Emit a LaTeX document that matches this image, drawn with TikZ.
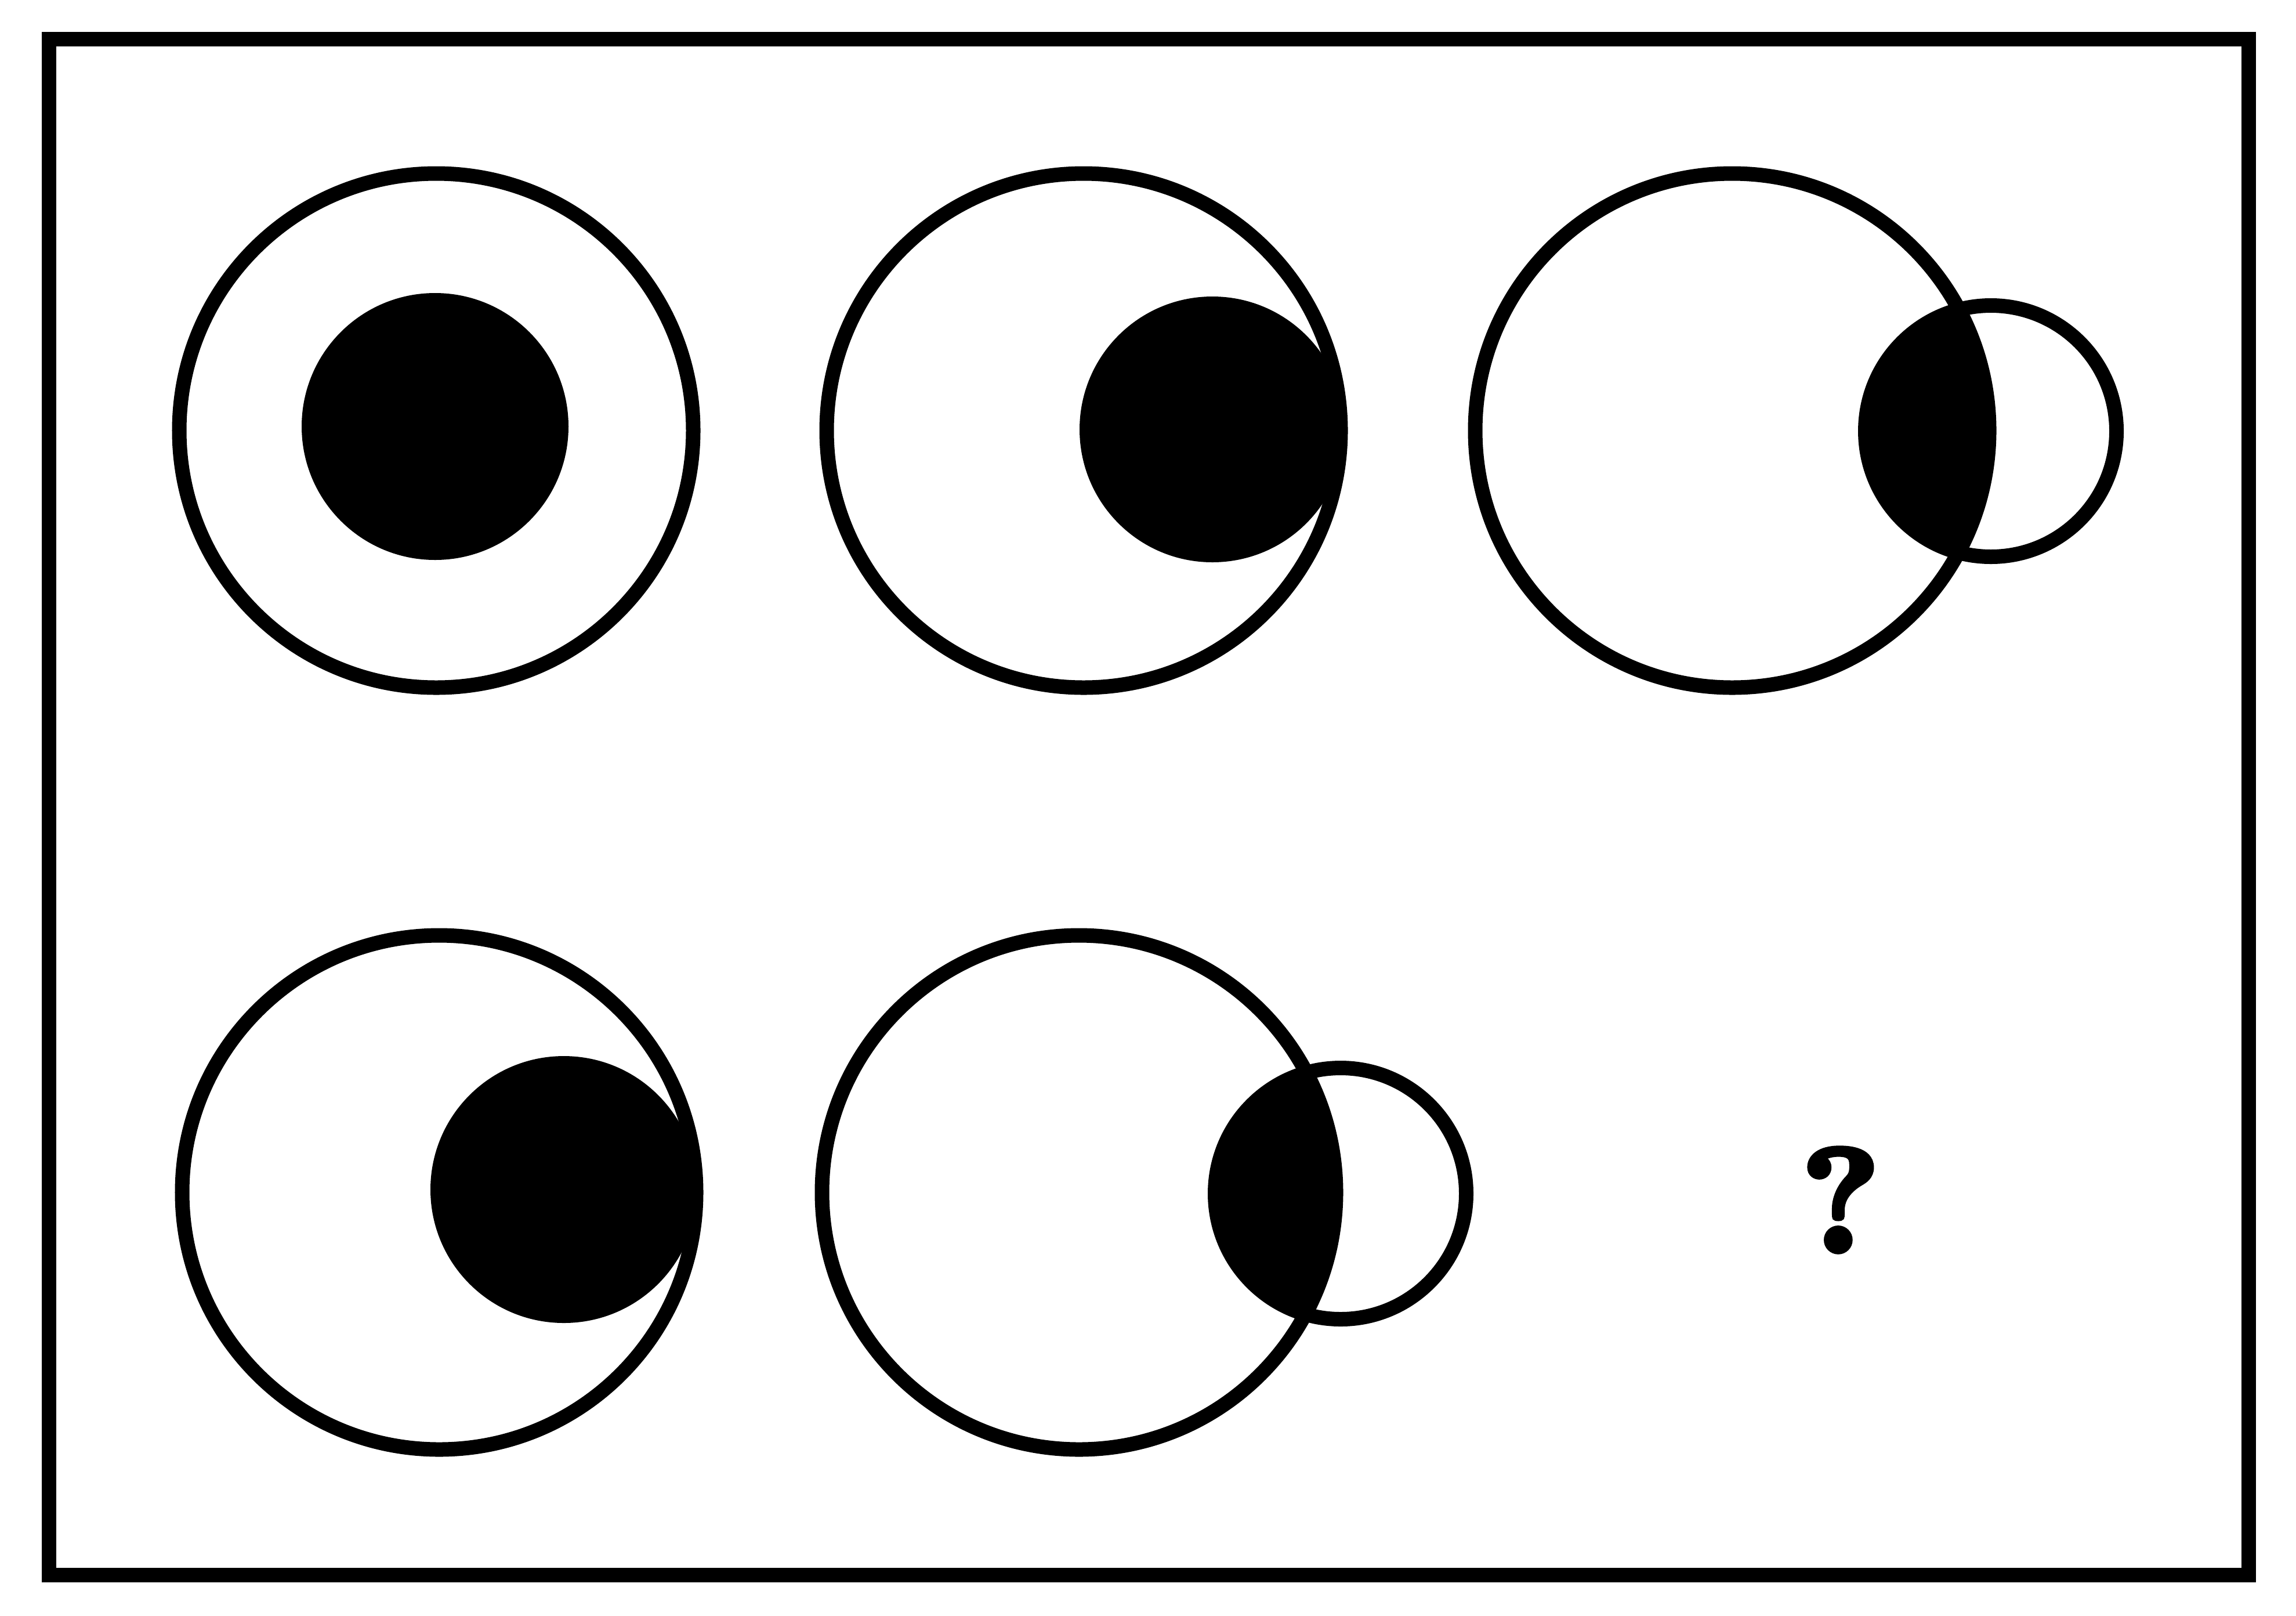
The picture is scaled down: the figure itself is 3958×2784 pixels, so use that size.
\documentclass[tikz,border=0pt]{standalone}
\usepackage{fontspec}
\newfontface\qfont[FakeBold=4]{lmroman10-bold.otf}
\begin{document}
\begin{tikzpicture}[x=0.01cm,y=-0.01cm]
\tikzset{
  ring/.style={draw=black, line width=0.25cm},
  blob/.style={fill=black},
  qmark/.style={font=\qfont\fontsize{72}{72}\selectfont, inner sep=0pt}
}
\useasboundingbox (0,0) rectangle (3958,2784);
\draw[ring] (84.8,67.5) rectangle (3876,2714);
% panel 1
\fill[blob] (750,735) circle[radius=230];
\draw[ring] (752,742) circle[radius=443];
% panel 2
\begin{scope}
  \clip (1868,742) circle[radius=455];
  \fill[blob] (2090,740) circle[radius=229];
\end{scope}
\draw[ring] (1868,742) circle[radius=443];
% panel 3
\begin{scope}
  \clip (2986,742) circle[radius=443];
  \fill[blob] (3432,743) circle[radius=216.5];
\end{scope}
\draw[ring] (2986,742) circle[radius=443];
\draw[ring] (3432,743) circle[radius=216.5];
% panel 4
\begin{scope}
  \clip (757,2055) circle[radius=455];
  \fill[blob] (972,2050) circle[radius=230];
\end{scope}
\draw[ring] (757,2055) circle[radius=443];
% panel 5
\begin{scope}
  \clip (1860,2055) circle[radius=443];
  \fill[blob] (2311,2057) circle[radius=216.5];
\end{scope}
\draw[ring] (1860,2055) circle[radius=443];
\draw[ring] (2311,2057) circle[radius=216.5];
% question mark
\node[qmark] (q) at (3173,2068) {?};
\end{tikzpicture}
\end{document}
